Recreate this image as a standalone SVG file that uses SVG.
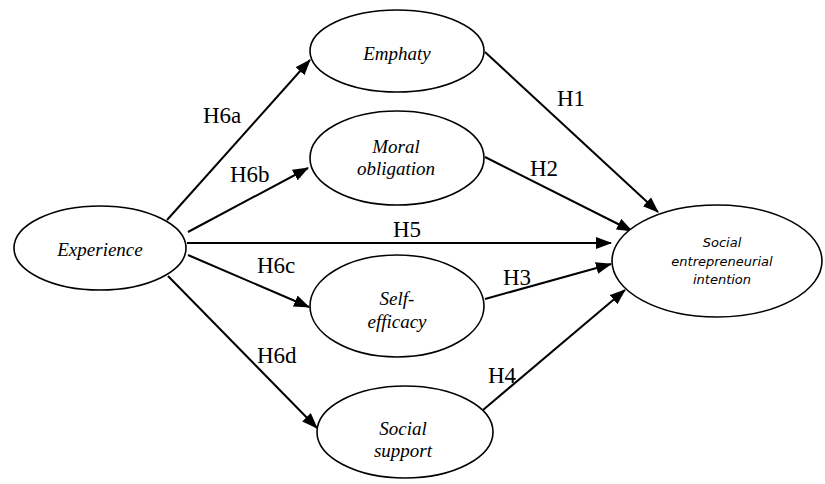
<svg xmlns="http://www.w3.org/2000/svg" width="825" height="484" viewBox="0 0 825 484">
<style>
.node ellipse{fill:#fff;stroke:#000;stroke-width:1.6}
.nt{font-family:"Liberation Serif","Times New Roman",Times,"DejaVu Serif",serif;font-style:italic;font-size:19px;fill:#000;text-anchor:middle}
.st{font-family:"DejaVu Sans",sans-serif;font-style:italic;font-size:13px;fill:#000;text-anchor:middle}
.edges line{stroke:#000;stroke-width:2;marker-end:url(#ah)}
.lb{font-family:"Liberation Serif","Times New Roman",Times,"DejaVu Serif",serif;font-size:23px;fill:#000}
</style>
<defs>
<marker id="ah" markerUnits="userSpaceOnUse" markerWidth="16" markerHeight="12" viewBox="0 0 16 12" refX="15" refY="6" orient="auto">
<path d="M0,0 L16,6 L0,12 z" fill="#000"/>
</marker>
</defs>
<g class="edges">
<line x1="167" y1="220" x2="310" y2="60"/>
<line x1="188" y1="232" x2="308" y2="168"/>
<line x1="187" y1="243" x2="611" y2="243"/>
<line x1="188" y1="255" x2="309" y2="307"/>
<line x1="168" y1="276" x2="317" y2="428"/>
<line x1="485" y1="52" x2="658" y2="212"/>
<line x1="485" y1="157" x2="632" y2="231"/>
<line x1="485" y1="299" x2="611" y2="264"/>
<line x1="483" y1="410" x2="625" y2="290"/>
</g>
<g id="labels">
<text class="lb" x="203" y="123">H6a</text>
<text class="lb" x="230" y="182">H6b</text>
<text class="lb" x="393" y="237">H5</text>
<text class="lb" x="257" y="273">H6c</text>
<text class="lb" x="257" y="363">H6d</text>
<text class="lb" x="557" y="106">H1</text>
<text class="lb" x="530" y="176">H2</text>
<text class="lb" x="503" y="285">H3</text>
<text class="lb" x="488" y="383">H4</text>
</g>
<g id="experience" class="node">
<ellipse cx="100" cy="248" rx="86" ry="42"/>
<text class="nt" x="100" y="256">Experience</text>
</g>
<g id="emphaty" class="node">
<ellipse cx="397" cy="51" rx="87" ry="41"/>
<text class="nt" x="397" y="60">Emphaty</text>
</g>
<g id="moral" class="node">
<ellipse cx="397" cy="158" rx="87" ry="47"/>
<text class="nt" x="396" y="153">Moral</text>
<text class="nt" x="396" y="175">obligation</text>
</g>
<g id="selfefficacy" class="node">
<ellipse cx="397" cy="306" rx="87" ry="51"/>
<text class="nt" x="397" y="305">Self-</text>
<text class="nt" x="397" y="328">efficacy</text>
</g>
<g id="socialsupport" class="node">
<ellipse cx="405" cy="432" rx="88" ry="46"/>
<text class="nt" x="403" y="435">Social</text>
<text class="nt" x="403" y="457">support</text>
</g>
<g id="sei" class="node">
<ellipse cx="717" cy="261" rx="105" ry="56"/>
<text class="st" x="722" y="247">Social</text>
<text class="st" x="722" y="266">entrepreneurial</text>
<text class="st" x="722" y="284">intention</text>
</g>
</svg>
